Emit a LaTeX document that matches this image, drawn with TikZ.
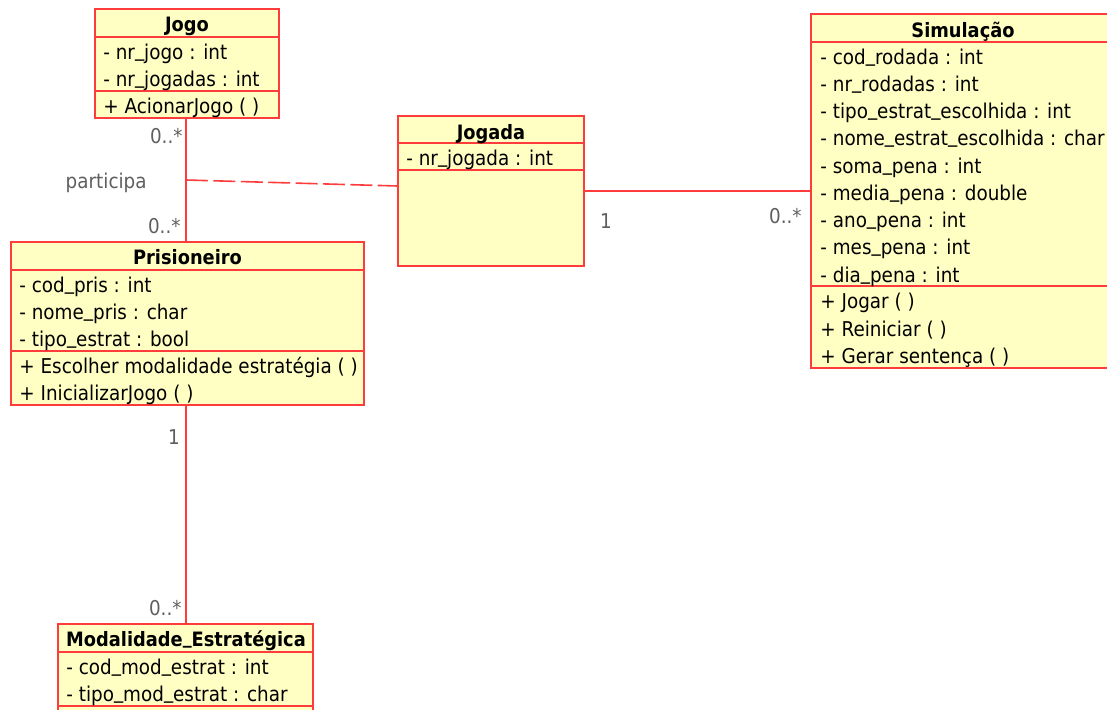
\documentclass[tikz,border=0pt]{standalone}
\usepackage{fontspec}
\setmainfont{DejaVu Sans}[FakeStretch=0.9]
\usetikzlibrary{fit,calc}
\definecolor{umlred}{RGB}{255,60,60}
\definecolor{umlfill}{RGB}{255,255,196}
\definecolor{umlgray}{RGB}{95,95,95}
\newcommand{\uscore}{\raisebox{0.17em}{\_}}

\begin{document}
\begin{tikzpicture}[x=0.5pt,y=-0.5pt,
	classe/.style = {draw=umlred,fill=umlfill,line width=0.8pt,inner sep=0pt},
	titolo/.style = {font=\fontsize{9.9}{11}\selectfont\bfseries,inner sep=0pt,text height=7pt,text depth=2pt,yshift=-1.3pt},
	campo/.style = {anchor=west,font=\fontsize{10.2}{11}\selectfont,inner sep=0pt,text height=7pt,text depth=2pt,yshift=-1.3pt},
	molt/.style = {font=\fontsize{10.2}{11}\selectfont,text=umlgray,inner sep=0pt,text height=7pt,text depth=2pt,yshift=-1.3pt},
	sep/.style = {draw=umlred,line width=0.8pt},
	assoc/.style = {draw=umlred,line width=0.8pt}
	]
	\useasboundingbox (0,0) rectangle (1107,710);
	\clip (0,0) rectangle (1107,710);
	%CLASSE JOGO
	\node[classe,fit={(95,9) (279,118)}] (jogo) {};
	\draw[sep] (95,37) -- (279,37);
	\draw[sep] (95,91) -- (279,91);
	\node[titolo] (jogoT) at (187,24) {Jogo};
	\node[campo] (jogo1) at (103,52) {- nr\uscore jogo : int};
	\node[campo] (jogo2) at (103,79) {- nr\uscore jogadas : int};
	\node[campo] (jogo3) at (103,106) {+ AcionarJogo ( )};
	%CLASSE JOGADA
	\node[classe,fit={(398,116) (584,266)}] (jogada) {};
	\draw[sep] (398,143) -- (584,143);
	\draw[sep] (398,170) -- (584,170);
	\node[titolo] (jogadaT) at (491,132) {Jogada};
	\node[campo] (jogada1) at (406,158) {- nr\uscore jogada : int};
	%CLASSE SIMULACAO
	\node[classe,fit={(811,14) (1115,368)}] (sim) {};
	\draw[sep] (811,42) -- (1115,42);
	\draw[sep] (811,286) -- (1115,286);
	\node[titolo] (simT) at (963,30) {Simulação};
	\node[campo] (sim1) at (820,57) {- cod\uscore rodada : int};
	\node[campo] (sim2) at (820,84) {- nr\uscore rodadas : int};
	\node[campo] (sim3) at (820,111) {- tipo\uscore estrat\uscore escolhida : int};
	\node[campo] (sim4) at (820,138) {- nome\uscore estrat\uscore escolhida : char};
	\node[campo] (sim5) at (820,166) {- soma\uscore pena : int};
	\node[campo] (sim6) at (820,193) {- media\uscore pena : double};
	\node[campo] (sim7) at (820,220) {- ano\uscore pena : int};
	\node[campo] (sim8) at (820,247) {- mes\uscore pena : int};
	\node[campo] (sim9) at (820,275) {- dia\uscore pena : int};
	\node[campo] (sim10) at (820,301) {+ Jogar ( )};
	\node[campo] (sim11) at (820,329) {+ Reiniciar ( )};
	\node[campo] (sim12) at (820,356) {+ Gerar sentença ( )};
	%CLASSE PRISIONEIRO
	\node[classe,fit={(11,242) (364,405)}] (pris) {};
	\draw[sep] (11,270) -- (364,270);
	\draw[sep] (11,351) -- (364,351);
	\node[titolo] (prisT) at (187.5,257) {Prisioneiro};
	\node[campo] (pris1) at (19,285) {- cod\uscore pris : int};
	\node[campo] (pris2) at (19,312) {- nome\uscore pris : char};
	\node[campo] (pris3) at (19,339) {- tipo\uscore estrat : bool};
	\node[campo] (pris4) at (19,366) {+ Escolher modalidade estratégia ( )};
	\node[campo] (pris5) at (19,393) {+ InicializarJogo ( )};
	%CLASSE MODALIDADE
	\node[classe,fit={(58,624) (313,730)}] (mod) {};
	\draw[sep] (58,652) -- (313,652);
	\draw[sep] (58,706) -- (313,706);
	\node[titolo] (modT) at (186,639) {Modalidade\uscore Estratégica};
	\node[campo] (mod1) at (66,667) {- cod\uscore mod\uscore estrat : int};
	\node[campo] (mod2) at (66,694) {- tipo\uscore mod\uscore estrat : char};
	%ASSOCIAZIONI
	\coordinate (jogoOut) at ([xshift=-0.5pt]jogo.south);
	\draw[assoc] (jogoOut) -- (jogoOut |- pris.north);
	\coordinate (part) at ($(jogoOut)!0.5!(jogoOut |- pris.north)$);
	\coordinate (jogadaIn) at ([yshift=2.5pt]jogada.west);
	\draw[assoc,dash pattern=on 11pt off 2.7pt] (part) -- (jogadaIn);
	\draw[assoc] (jogada.east) -- (jogada.east -| sim.west);
	\draw[assoc] (jogoOut |- pris.south) -- (jogoOut |- mod.north);
	%MOLTEPLICITA
	\node[molt,anchor=east] (m1) at (183,136) {0..*};
	\node[molt,anchor=east] (m2) at (181,226) {0..*};
	\node[molt,anchor=east] (lpart) at (147,181) {participa};
	\node[molt] (m3) at (174,437) {1};
	\node[molt,anchor=east] (m4) at (182,608) {0..*};
	\node[molt] (m5) at (606,221) {1};
	\node[molt,anchor=east] (m6) at (802,216) {0..*};
\end{tikzpicture}
\end{document}
